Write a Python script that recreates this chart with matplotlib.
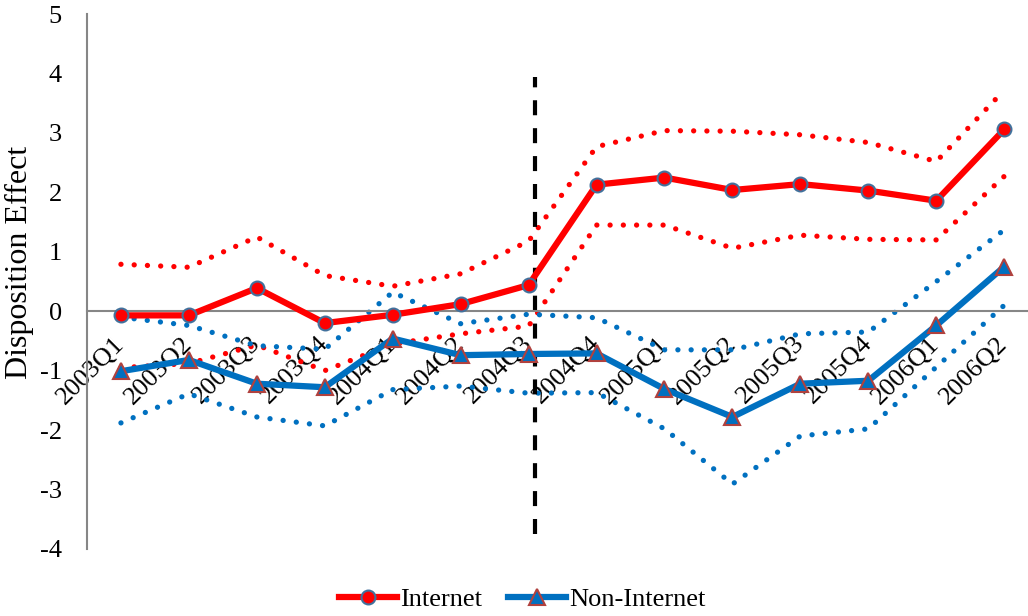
import matplotlib.pyplot as plt
import numpy as np

plt.rcParams['font.family'] = ['Liberation Serif', 'DejaVu Serif']
plt.rcParams['font.size'] = 19
plt.rcParams['axes.unicode_minus'] = False

quarters = ['2003Q1', '2003Q2', '2003Q3', '2003Q4', '2004Q1', '2004Q2', '2004Q3',
            '2004Q4', '2005Q1', '2005Q2', '2005Q3', '2005Q4', '2006Q1', '2006Q2']

# point estimates
internet = [-0.07, -0.07, 0.39, -0.20, -0.06, 0.12, 0.44, 2.13, 2.25, 2.04, 2.14, 2.03, 1.86, 3.06]
non_internet = [-1.01, -0.82, -1.22, -1.28, -0.46, -0.74, -0.72, -0.71, -1.31, -1.78, -1.22, -1.17, -0.24, 0.75]

# confidence bands
internet_hi = [0.79, 0.74, 1.25, 0.60, 0.42, 0.63, 1.18, 2.77, 3.04, 3.03, 2.97, 2.84, 2.52, 3.72]
internet_lo = [-0.95, -0.88, -0.57, -1.00, -0.55, -0.38, -0.25, 1.45, 1.45, 1.06, 1.28, 1.21, 1.20, 2.27]
non_hi = [-0.10, -0.24, -0.58, -0.64, 0.32, -0.21, -0.05, -0.11, -0.65, -0.65, -0.38, -0.35, 0.50, 1.37]
non_lo = [-1.88, -1.39, -1.78, -1.93, -1.32, -1.26, -1.38, -1.37, -1.98, -2.91, -2.10, -1.98, -0.94, 0.10]

# event marker (between 2004Q3 and 2004Q4)
event_x = 6.09
event_span = (-3.75, 3.95)

RED = '#FF0000'
BLUE = '#0070C0'
x = np.arange(len(quarters))

fig = plt.figure(figsize=(10.28, 6.16), dpi=100)
ax = fig.add_axes([0.0846, 0.109, 0.9154, 0.868])

# spine position first, it resets the ticks
for s in ['top', 'right']:
    ax.spines[s].set_visible(False)
ax.spines['bottom'].set_position(('data', 0))
ax.spines['bottom'].set_color('#868686')
ax.spines['left'].set_color('#868686')
ax.spines['bottom'].set_linewidth(1.5)
ax.spines['left'].set_linewidth(1.5)

dot = (0, (0.01, 2.5))
ax.plot(x, internet_hi, color=RED, lw=3.8, ls=dot, dash_capstyle='round')
ax.plot(x, internet_lo, color=RED, lw=3.8, ls=dot, dash_capstyle='round')
ax.plot(x, non_hi, color=BLUE, lw=3.8, ls=dot, dash_capstyle='round')
ax.plot(x, non_lo, color=BLUE, lw=3.8, ls=dot, dash_capstyle='round')

ax.plot([event_x, event_x], event_span, color='black', lw=3, ls=(0, (3.6, 3.1)))

ax.plot(x, internet, color=RED, lw=4.5, marker='o', ms=10,
        mfc=RED, mec='#41719C', mew=1.5, label='Internet', zorder=4)
ax.plot(x, non_internet, color=BLUE, lw=4.5, marker='^', ms=11,
        mfc=BLUE, mec='#B0413E', mew=1.5, label='Non-Internet', zorder=4)

ax.set_xlim(-0.5, 13.35)
ax.set_ylim(-4, 5)
ax.set_yticks(range(-4, 6))
ax.set_xticks(x)
ax.set_xticklabels(quarters, rotation=45, ha='right', va='center',
                   rotation_mode='anchor', fontsize=19)
ax.tick_params(axis='y', length=0, pad=18)
ax.tick_params(axis='x', length=0, pad=21)
ax.set_ylabel('Disposition Effect', fontsize=23)
ax.yaxis.set_label_coords(-0.056, 0.536)

fig.legend(loc='center', bbox_to_anchor=(0.508, 0.027), ncol=2, frameon=False,
           handlelength=2.2, handletextpad=0.1, columnspacing=1.0, borderaxespad=0)

fig.savefig('out.png', dpi=100)
